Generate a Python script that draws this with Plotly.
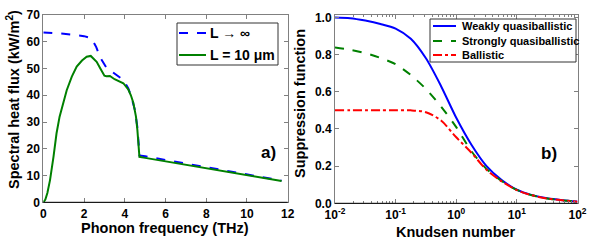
import plotly.graph_objects as go

# ---------- Panel a) data ----------
freq_inf = [0, 0.5, 1.0, 1.5, 2.0, 2.37, 2.6, 2.8, 2.95, 3.1, 3.27, 3.6, 3.93, 4.17, 4.3, 4.5, 4.62, 4.68, 4.72,
            5.0, 6.0, 8.0, 10.0, 11.7]
flux_inf = [63.5, 63.3, 63.0, 62.6, 62.1, 61.3, 58.0, 54.0, 51.9, 50.3, 49.4, 47.5, 45.7, 42.6, 40.0, 34.5, 28.0, 22.0, 17.5,
            17.2, 15.8, 13.0, 10.3, 8.1]

freq_10 = [0, 0.1, 0.2, 0.33, 0.5, 0.65, 0.8, 1.0, 1.15, 1.4, 1.64, 1.9, 2.13, 2.33, 2.5, 2.62, 2.8, 3.0, 3.1, 3.27,
           3.5, 3.68, 3.93, 4.17, 4.3, 4.42, 4.55, 4.62, 4.68, 4.72, 5.0, 6.0, 8.0, 10.0, 11.7]
flux_10 = [0, 1.0, 3.5, 8.3, 17.0, 25.8, 32.0, 38.0, 41.9, 47.0, 50.7, 53.0, 54.4, 54.7, 53.5, 52.5, 50.0, 47.3, 47.1, 47.2,
           46.0, 45.3, 44.5, 42.2, 40.0, 37.2, 32.0, 27.0, 20.0, 17.0, 16.6, 15.3, 12.7, 10.1, 8.0]
series_a_names = ["L \u2192 \u221e", "L = 10 \u03bcm"]

# ---------- Panel b) data ----------
knudsen = [0.01, 0.0178, 0.0316, 0.0562, 0.1, 0.178, 0.316, 0.562, 1.0, 1.78, 3.16, 5.62, 10.0, 17.8, 31.6, 56.2, 100.0]
weakly = [1.0, 0.996, 0.983, 0.965, 0.94, 0.885, 0.78, 0.63, 0.46, 0.315, 0.20, 0.125, 0.073, 0.044, 0.027, 0.017, 0.01]
strongly = [0.838, 0.826, 0.808, 0.782, 0.748, 0.69, 0.615, 0.52, 0.41, 0.28, 0.185, 0.12, 0.072, 0.043, 0.026, 0.016, 0.009]
ballistic = [0.5, 0.5, 0.5, 0.5, 0.5, 0.5, 0.49, 0.445, 0.355, 0.272, 0.18, 0.118, 0.071, 0.043, 0.026, 0.016, 0.009]
series_b_names = ["Weakly quasiballistic", "Strongly quasiballistic", "Ballistic"]

xticks_a = [0, 2, 4, 6, 8, 10, 12]
yticks_a = [0, 10, 20, 30, 40, 50, 60, 70]
xticks_b = [0.01, 0.1, 1, 10, 100]
xticklabels_b = ["10<sup>-2</sup>", "10<sup>-1</sup>", "10<sup>0</sup>", "10<sup>1</sup>", "10<sup>2</sup>"]
yticks_b = [0.0, 0.2, 0.4, 0.6, 0.8, 1.0]

W, H = 592, 243
FONT = "Liberation Sans, Arial, sans-serif"
GRAY = "#808080"

def px(x):
    return x / W

def py(y):
    return 1 - y / H

fig = go.Figure()

styles_a = [dict(color="#0000ff", dash="dash"), dict(color="#008000", dash="solid")]
for name, xs, ys, st in zip(series_a_names, [freq_inf, freq_10], [flux_inf, flux_10], styles_a):
    fig.add_trace(go.Scatter(x=xs, y=ys, mode="lines", name=name, showlegend=False,
                             line=dict(color=st["color"], width=2, dash=st["dash"]),
                             xaxis="x", yaxis="y"))

styles_b = [dict(color="#0000ff", dash="solid"), dict(color="#008000", dash="dash"), dict(color="#ff0000", dash="dashdot")]
for name, vals, st in zip(series_b_names, [weakly, strongly, ballistic], styles_b):
    fig.add_trace(go.Scatter(x=knudsen, y=vals, mode="lines", name=name, showlegend=False,
                             line=dict(color=st["color"], width=2, dash=st["dash"], shape="spline", smoothing=0.8),
                             xaxis="x2", yaxis="y2"))

tickfont = dict(family=FONT, size=12, color="black", weight="bold")
common = dict(showgrid=False, zeroline=False, showline=True, linecolor=GRAY, linewidth=1,
              mirror="ticks", ticks="inside", ticklen=4, tickcolor=GRAY, tickfont=tickfont,
              automargin=False)

fig.update_layout(
    width=W, height=H, autosize=False,
    margin=dict(l=0, r=0, t=0, b=0),
    paper_bgcolor="white", plot_bgcolor="white",
    font=dict(family=FONT, color="black"),
    xaxis=dict(domain=[px(43.3), px(287.7)], range=[0, 12], tickvals=xticks_a, anchor="y", ticklabelstandoff=0, **common),
    yaxis=dict(domain=[py(202.3), py(15)], range=[0, 70], tickvals=yticks_a, anchor="x", **common),
    xaxis2=dict(domain=[px(335), px(577.5)], type="log", range=[-2, 2], tickvals=xticks_b,
                ticktext=xticklabels_b, anchor="y2", minor=dict(ticks="inside", ticklen=2, tickcolor=GRAY,
                                                                 tickvals=[a * b for a in [0.01, 0.1, 1, 10] for b in range(2, 10)]),
                **common),
    yaxis2=dict(domain=[py(203.3), py(15)], range=[0, 1.013], tickvals=yticks_b, tickformat=".1f", anchor="x2", **common),
    showlegend=False,
)

ann_font = dict(family=FONT, size=14.5, color="black", weight="bold")
fig.add_annotation(text="Phonon frequency (THz)", x=px(165), y=py(228), xref="paper", yref="paper",
                   showarrow=False, font=ann_font, xanchor="center", yanchor="middle")
fig.add_annotation(text="Knudsen number", x=px(456), y=py(232), xref="paper", yref="paper",
                   showarrow=False, font=ann_font, xanchor="center", yanchor="middle")
fig.add_annotation(text="Spectral heat flux (kW/m<sup>2</sup>)", x=px(13), y=py(100), xref="paper", yref="paper",
                   showarrow=False, font=ann_font, textangle=-90, xanchor="center", yanchor="middle")
fig.add_annotation(text="Suppression function", x=px(300), y=py(104), xref="paper", yref="paper",
                   showarrow=False, font=ann_font, textangle=-90, xanchor="center", yanchor="middle")
fig.add_annotation(text="a)", x=px(268), y=py(164), xref="paper", yref="paper",
                   showarrow=False, font=dict(family=FONT, size=17, color="black", weight="bold"))
fig.add_annotation(text="b)", x=px(559), y=py(165), xref="paper", yref="paper",
                   showarrow=False, font=dict(family=FONT, size=17, color="black", weight="bold"))

# legend box for panel a)
fig.add_shape(type="rect", xref="paper", yref="paper", x0=px(177), x1=px(278), y0=py(65), y1=py(23),
              line=dict(color="#333", width=1), fillcolor="white", layer="above")
for name, st, ry in zip(series_a_names, styles_a, [33, 55]):
    fig.add_shape(type="line", xref="paper", yref="paper", x0=px(179), x1=px(206), y0=py(ry), y1=py(ry),
                  line=dict(color=st["color"], width=2, dash=st["dash"]), layer="above")
    fig.add_annotation(text=name, x=px(208), y=py(ry), xref="paper", yref="paper", showarrow=False,
                       xanchor="left", yanchor="middle",
                       font=dict(family=FONT, size=14, color="black", weight="bold"))

# legend box for panel b)
fig.add_shape(type="rect", xref="paper", yref="paper", x0=px(430), x1=px(576), y0=py(62), y1=py(19),
              line=dict(color="#333", width=1), fillcolor="white", layer="above")
for name, st, ry in zip(series_b_names, styles_b, [26, 41, 55]):
    fig.add_shape(type="line", xref="paper", yref="paper", x0=px(433), x1=px(456), y0=py(ry), y1=py(ry),
                  line=dict(color=st["color"], width=2, dash=st["dash"]), layer="above")
    fig.add_annotation(text=name, x=px(460), y=py(ry), xref="paper", yref="paper", showarrow=False,
                       xanchor="left", yanchor="middle",
                       font=dict(family=FONT, size=11, color="black", weight="bold"))

# black bottom axis lines on top of gray frame
for xr, yr in [("x domain", "y domain"), ("x2 domain", "y2 domain")]:
    fig.add_shape(type="line", xref=xr, yref=yr, x0=0, x1=1, y0=0, y1=0,
                  line=dict(color="black", width=1), layer="above")

fig.write_html("out.html", config={"displayModeBar": False},
               post_script="document.body.style.margin='0';document.body.style.overflow='hidden';")
